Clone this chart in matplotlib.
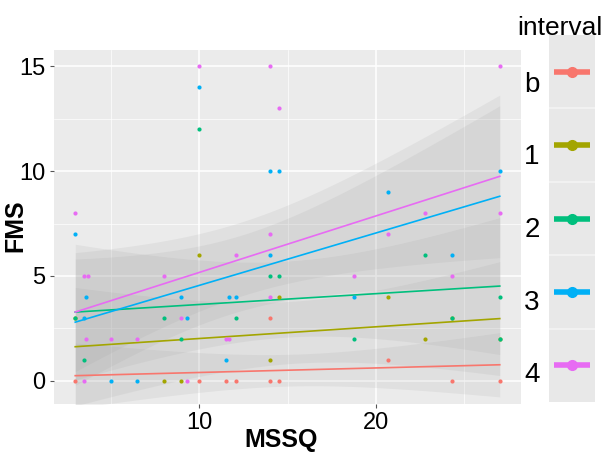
import numpy as np
import matplotlib.pyplot as plt

plt.rcParams["font.family"] = ["Liberation Sans", "DejaVu Sans"]

# --- data (MSSQ, FMS) per interval ---
b_x = [3, 10, 11.5, 12.1, 14, 14.5, 14, 20.7, 24.3, 27]
b_y = [0, 0, 0, 0, 0, 0, 3, 1, 0, 0]

i1_x = [3, 8, 9, 10, 14, 14.5, 20.7, 22.8, 24.3, 27]
i1_y = [3, 0, 0, 6, 1, 4, 4, 2, 3, 2]

i2_x = [3, 3.5, 8, 9, 10, 12.1, 14, 14.5, 18.75, 22.8, 24.3, 27, 27]
i2_y = [3, 1, 3, 2, 12, 3, 5, 5, 2, 6, 3, 4, 2]

i3_x = [3, 3.5, 3.6, 5, 6.5, 9, 9.3, 10, 11.5, 11.7, 12.1, 14, 14, 14.5, 18.75, 20.7, 24.3, 27]
i3_y = [7, 3, 4, 0, 0, 4, 3, 14, 1, 4, 4, 6, 10, 10, 4, 9, 6, 10]

i4_x = [3, 3.5, 3.7, 3.6, 3.5, 5, 6.5, 8, 9, 9.3, 10, 11.5, 11.7, 12.1, 14, 14, 14, 14.5,
        18.75, 20.7, 22.8, 24.3, 27, 27]
i4_y = [8, 5, 5, 2, 0, 2, 2, 5, 3, 0, 15, 2, 2, 6, 7, 4, 15, 13, 5, 7, 8, 5, 8, 15]

# fitted lines: FMS at MSSQ = 3 and at MSSQ = 27
fit_x = [3, 27]
fit_b = [0.25, 0.77]
fit_1 = [1.63, 2.97]
fit_2 = [3.28, 4.52]
fit_3 = [2.8, 8.8]
fit_4 = [3.28, 9.75]

labels = ["b", "1", "2", "3", "4"]
colors = ["#F8766D", "#A3A500", "#00BF7D", "#00B0F6", "#E76BF3"]
groups = [(b_x, b_y, fit_b), (i1_x, i1_y, fit_1), (i2_x, i2_y, fit_2),
          (i3_x, i3_y, fit_3), (i4_x, i4_y, fit_4)]


def band(x, y, line, xs):
    # 95% confidence band around the line, from the spread of the points
    x = np.asarray(x, float)
    y = np.asarray(y, float)
    n = len(x)
    fit = np.interp(xs, fit_x, line)
    resid = y - np.interp(x, fit_x, line)
    s = np.sqrt(np.sum(resid ** 2) / (n - 2))
    sxx = np.sum((x - x.mean()) ** 2)
    df = n - 2
    z = 1.96
    t = z + (z ** 3 + z) / (4 * df) + (5 * z ** 5 + 16 * z ** 3 + 3 * z) / (96 * df ** 2)
    se = s * np.sqrt(1 / n + (xs - x.mean()) ** 2 / sxx)
    return fit, fit - t * se, fit + t * se


fig = plt.figure(figsize=(6.08, 4.53), dpi=100)
ax = fig.add_axes([54 / 608, 1 - 404 / 453, 467 / 608, 354 / 453])
ax.set_facecolor("#EBEBEB")
for sp in ax.spines.values():
    sp.set_visible(False)

ax.set_xticks([10, 20])
ax.set_xticks([5, 15, 25], minor=True)
ax.set_yticks([0, 5, 10, 15])
ax.set_yticks([2.5, 7.5, 12.5], minor=True)
ax.grid(True, which="major", color="white", lw=1.1)
ax.grid(True, which="minor", color="white", lw=0.5)
ax.set_axisbelow(True)
ax.tick_params(which="major", length=3, color="#555555", labelsize=17, labelcolor="black", pad=3)
ax.tick_params(which="minor", length=0)

xs = np.linspace(3, 27, 80)
for gx, gy, line in groups:
    fit, lo, hi = band(gx, gy, line, xs)
    ax.fill_between(xs, lo, hi, color="#999999", alpha=0.13, lw=0, zorder=1)
for (gx, gy, line), col in zip(groups, colors):
    ax.scatter(gx, gy, s=9, color=col, zorder=3, lw=0)
    ax.plot(fit_x, line, color=col, lw=1.2, zorder=2)

ax.set_xlim(1.8, 28.2)
ax.set_ylim(-1.1, 15.77)
fig.text(281 / 608, 1 - 440 / 453, "MSSQ", fontsize=18, fontweight="bold", ha="center", va="center")
fig.text(15 / 608, 1 - 226 / 453, "FMS", fontsize=18, fontweight="bold", ha="center", va="center",
         rotation=90)

# legend drawn as its own column of keys
fig.text(560 / 608, 1 - 28 / 453, "interval", fontsize=19, ha="center", va="center")
lax = fig.add_axes([549 / 608, 1 - 402 / 453, 46 / 608, 367 / 453])
lax.set_facecolor("#E8E8E8")
lax.set_xlim(0, 1)
lax.set_ylim(0, 5)
lax.set_xticks([])
lax.set_yticks([])
for sp in lax.spines.values():
    sp.set_visible(False)
for k in range(1, 5):
    lax.axhline(k, color="#F4F4F4", lw=1.2)
for k, (lab, col) in enumerate(zip(labels, colors)):
    yk = 4.5 - k
    lax.plot([0.1, 0.9], [yk, yk], color=col, lw=4, solid_capstyle="butt")
    lax.plot([0.5], [yk], "o", color=col, ms=7)
    fig.text(532 / 608, 1 - (85 + 72.5 * k) / 453, lab, fontsize=20, ha="center", va="center")

fig.savefig("out.png", dpi=100)
